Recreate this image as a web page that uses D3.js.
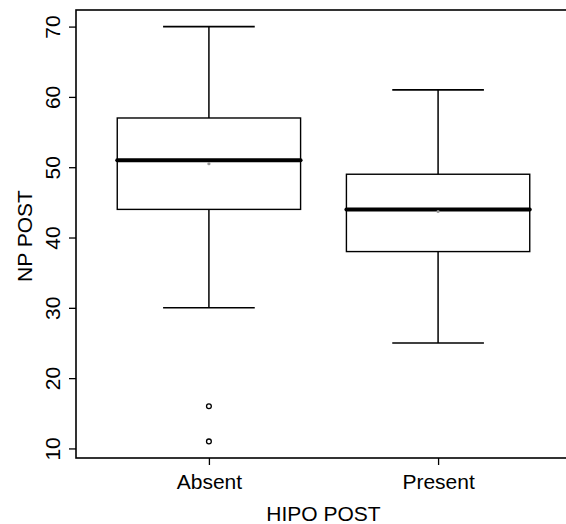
<!DOCTYPE html>
<html>
<head>
<meta charset="utf-8">
<script src="https://cdn.jsdelivr.net/npm/d3@7"></script>
<style>
  body { margin: 0; background: #fff; }
  svg text { font-family: "Liberation Sans", Arial, Helvetica, sans-serif; fill: #000; }
</style>
</head>
<body>
<div id="area"></div>
<script>
var width = 566,
    height = 524;

// group labels and five-number summaries
var categories = ['Absent', 'Present'];
var whiskerLow = [30, 25],
    lowerQuartile = [44, 38],
    medians = [51, 44],
    upperQuartile = [57, 49],
    whiskerHigh = [70, 61];
var means = [50.5, 43.7];
var outliers = [[16, 11], []];
var yTicks = [10, 20, 30, 40, 50, 60, 70];

var font_size = 21,
    line_color = '#000',
    mean_color = '#9a9a9a';

var svg = d3.select('#area').append('svg')
    .attr('width', width)
    .attr('height', height);

// R style: xlim 0.5..n+0.5 padded 4%, ylim data range padded 4%
var x = d3.scaleLinear().domain([0.42, 2.58]).range([76, 571]);
var y = d3.scaleLinear().domain([8.64, 72.36]).range([458, 10]);

var boxHalf = 0.4, capHalf = 0.2;

// plot frame (right edge falls outside the window)
svg.append('rect')
    .attr('x', x(0.42)).attr('y', y(72.36))
    .attr('width', x(2.58) - x(0.42))
    .attr('height', y(8.64) - y(72.36))
    .attr('fill', 'none')
    .attr('stroke', line_color)
    .attr('stroke-width', 1.6);

// y axis
var yAxis = svg.append('g')
    .attr('transform', 'translate(' + x(0.42) + ',0)')
    .call(d3.axisLeft(y).tickValues(yTicks).tickSize(7).tickPadding(0).tickFormat(d3.format('d')));
yAxis.select('.domain').remove();
yAxis.selectAll('.tick line').attr('stroke', line_color).attr('stroke-width', 1.3);
yAxis.selectAll('.tick text')
    .attr('x', null).attr('dy', null)
    .attr('transform', 'translate(-16,0) rotate(-90)')
    .attr('text-anchor', 'middle')
    .style('font-size', font_size + 'px')
    .style('font-family', '"Liberation Sans", Arial, sans-serif');

// x axis
var xAxis = svg.append('g')
    .attr('transform', 'translate(0,' + y(8.64) + ')')
    .call(d3.axisBottom(x).tickValues([1, 2]).tickSize(7).tickFormat(function(d) { return categories[d - 1]; }));
xAxis.select('.domain').remove();
xAxis.selectAll('.tick line').attr('stroke', line_color).attr('stroke-width', 1.3);
xAxis.selectAll('.tick text')
    .attr('y', 31).attr('dy', null)
    .style('font-size', font_size + 'px')
    .style('font-family', '"Liberation Sans", Arial, sans-serif');

// axis titles
svg.append('text')
    .attr('x', x(1.5)).attr('y', 521)
    .attr('text-anchor', 'middle')
    .style('font-size', font_size + 'px')
    .text('HIPO POST');

svg.append('text')
    .attr('transform', 'translate(32,236) rotate(-90)')
    .attr('text-anchor', 'middle')
    .style('font-size', font_size + 'px')
    .text('NP POST');

// boxes
var boxes = svg.selectAll('g.box')
    .data(categories)
    .enter().append('g')
    .attr('class', 'box');

boxes.each(function(cat, i) {
  var g = d3.select(this);
  var cx = i + 1;

  // whisker stems
  g.append('line')
      .attr('x1', x(cx)).attr('x2', x(cx))
      .attr('y1', y(whiskerHigh[i])).attr('y2', y(upperQuartile[i]))
      .attr('stroke', line_color).attr('stroke-width', 1.5);
  g.append('line')
      .attr('x1', x(cx)).attr('x2', x(cx))
      .attr('y1', y(lowerQuartile[i])).attr('y2', y(whiskerLow[i]))
      .attr('stroke', line_color).attr('stroke-width', 1.5);

  // caps
  [whiskerHigh[i], whiskerLow[i]].forEach(function(v) {
    g.append('line')
        .attr('x1', x(cx - capHalf)).attr('x2', x(cx + capHalf))
        .attr('y1', y(v)).attr('y2', y(v))
        .attr('stroke', line_color).attr('stroke-width', 1.6);
  });

  // box
  g.append('rect')
      .attr('x', x(cx - boxHalf))
      .attr('y', y(upperQuartile[i]))
      .attr('width', x(cx + boxHalf) - x(cx - boxHalf))
      .attr('height', y(lowerQuartile[i]) - y(upperQuartile[i]))
      .attr('fill', '#fff')
      .attr('stroke', line_color).attr('stroke-width', 1.4);

  // median
  g.append('line')
      .attr('x1', x(cx - boxHalf)).attr('x2', x(cx + boxHalf))
      .attr('y1', y(medians[i])).attr('y2', y(medians[i]))
      .attr('stroke', line_color).attr('stroke-width', 4)
      .attr('stroke-linecap', 'round');

  // mean marker
  g.append('circle')
      .attr('cx', x(cx)).attr('cy', y(means[i]))
      .attr('r', 1.6)
      .attr('fill', mean_color);

  // outliers
  g.selectAll('circle.out')
      .data(outliers[i])
      .enter().append('circle')
      .attr('class', 'out')
      .attr('cx', x(cx)).attr('cy', function(d) { return y(d); })
      .attr('r', 2.4)
      .attr('fill', 'none')
      .attr('stroke', line_color).attr('stroke-width', 1.3);
});
</script>
</body>
</html>
